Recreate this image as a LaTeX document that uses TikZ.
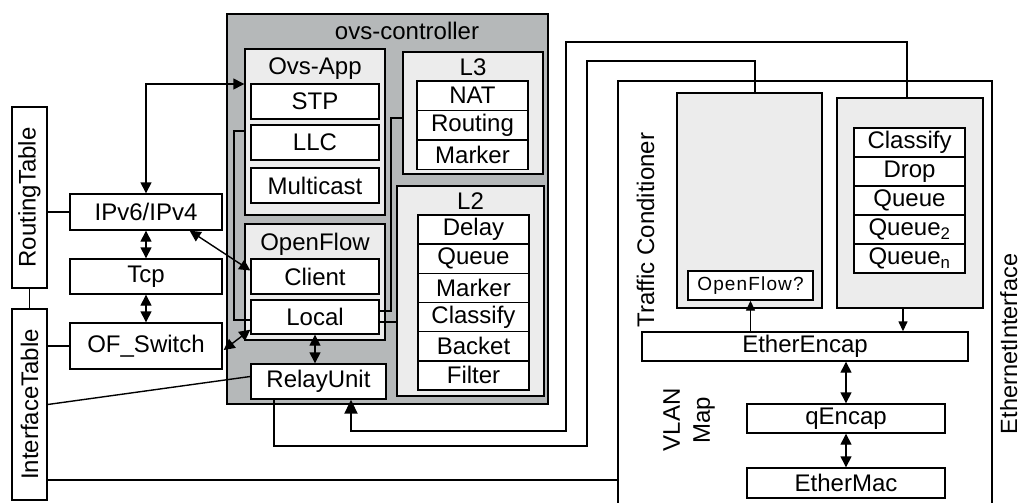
\documentclass[tikz,border=0pt]{standalone}
\usepackage{fontspec}
\setmainfont{Liberation Sans}
\usetikzlibrary{arrows.meta,calc}
\definecolor{ctrlgray}{HTML}{B5B8B9}
\definecolor{panelgray}{HTML}{ECECEC}
\begin{document}
\begin{tikzpicture}[x=1pt,y=-1pt,
  txt/.style={inner sep=0pt, font=\fontsize{24}{30}\selectfont},
  box/.style={draw=black, line width=1.4pt, fill=white, inner sep=0pt, font=\fontsize{24}{26}\selectfont},
  panel/.style={draw=black, line width=1.4pt, fill=panelgray, inner sep=0pt},
  conn/.style={line width=1.4pt},
  bi/.style={line width=1.4pt, {Triangle[length=11pt,width=11pt]}-{Triangle[length=11pt,width=11pt]}},
  uni/.style={line width=1.4pt, -{Triangle[length=10pt,width=9pt]}}]
\useasboundingbox (0,0) rectangle (1020,503);

% ---------- left column: tables and host stack ----------
\node[box, minimum width=35, minimum height=181] (rtab) at (29.5,197.5) {};
\node[txt, rotate=90] at (rtab) {RoutingTable};
\node[box, minimum width=35, minimum height=191] (itab) at (29.5,404.5) {};
\node[txt, rotate=90] at (itab) {InterfaceTable};

\node[box, minimum width=152, minimum height=36] (ipv) at (146,212) {IPv6/IPv4};
\node[box, minimum width=152, minimum height=35] (tcp) at (146,276.5) {Tcp};
\node[box, minimum width=152, minimum height=46] (ofsw) at (146,346) {OF\_Switch};

% ---------- ovs-controller ----------
\node[panel, fill=ctrlgray, minimum width=321, minimum height=390] (ctrl) at (387.5,209) {};
\node[txt] at (407,31) {ovs-controller};

\node[panel, minimum width=140, minimum height=166] (ovsapp) at (315,132) {};
\node[txt] at (315,69) {Ovs-App};
\node[box, minimum width=128, minimum height=35] (stp) at (315,101.5) {STP};
\node[box, minimum width=128, minimum height=35] (llc) at (315,142.5) {LLC};
\node[box, minimum width=128, minimum height=35] (mcast) at (315,185.5) {Multicast};

\node[panel, minimum width=140, minimum height=116] (ofbox) at (315,282) {};
\node[txt] at (315,244) {OpenFlow};
\node[box, minimum width=128, minimum height=35] (client) at (315,276.5) {Client};
\node[box, minimum width=128, minimum height=34] (local) at (315,317) {Local};

\node[box, minimum width=135, minimum height=35] (relay) at (318.5,381.5) {RelayUnit};

\node[panel, minimum width=140, minimum height=122] (l3) at (473,113) {};
\node[txt] at (473,67) {L3};
\node[box, minimum width=111, minimum height=29.4] (nat) at (472.5,95.7) {NAT};
\node[box, minimum width=111, minimum height=29.4] (rtg) at (472.5,125.1) {Routing};
\node[box, minimum width=111, minimum height=29.4] (mkt) at (472.5,154.5) {Marker};

\node[panel, minimum width=147, minimum height=210] (l2) at (470.5,291) {};
\node[txt] at (470.5,201) {L2};
\node[box, minimum width=111, minimum height=29.2] (delay) at (473.5,229.6) {Delay};
\node[box, minimum width=111, minimum height=29.2] (queue) at (473.5,258.75) {Queue};
\node[box, minimum width=111, minimum height=29.2] (mkr) at (473.5,287.9) {Marker};
\node[box, minimum width=111, minimum height=29.2] (cls) at (473.5,317.1) {Classify};
\node[box, minimum width=111, minimum height=29.2] (bkt) at (473.5,346.25) {Backet};
\node[box, minimum width=111, minimum height=29.2] (flt) at (473.5,375.4) {Filter};

% ---------- Ethernet interface ----------
\coordinate (ethL) at (618,81);
\coordinate (ethR) at (992,81);
\draw[conn] (618,510) -- (ethL) -- (ethR) -- (992,510);
\node[txt, rotate=90, anchor=base, font=\fontsize{23.5}{30}\selectfont] at (1017,344) {EthernetInterface};
\node[txt, rotate=90, anchor=base] at (654,230) {Traffic Conditioner};
\node[txt, rotate=90, align=center, font=\fontsize{24}{30}\selectfont] at (689,420) {VLAN\\Map};

\node[panel, minimum width=145, minimum height=215] (tcin) at (749.5,200.5) {};
\node[box, minimum width=125, minimum height=29, font=\fontsize{19}{22}\selectfont\addfontfeatures{LetterSpace=6}] (ofq) at (750.5,285.5) {OpenFlow?};

\node[panel, minimum width=146, minimum height=210] (tcout) at (910,203) {};
\node[box, minimum width=111, minimum height=29] (qcls) at (909.5,142.5) {Classify};
\node[box, minimum width=111, minimum height=29] (qdrop) at (909.5,171.5) {Drop};
\node[box, minimum width=111, minimum height=29] (qq) at (909.5,200.5) {Queue};
\node[box, minimum width=111, minimum height=29] (qq2) at (909.5,229.5) {Queue\textsubscript{2}};
\node[box, minimum width=111, minimum height=29] (qqn) at (909.5,258.5) {Queue\textsubscript{n}};

\node[box, minimum width=326, minimum height=29] (encap) at (805,346.5) {EtherEncap};
\node[box, minimum width=198, minimum height=29] (qencap) at (846,418.5) {qEncap};
\node[box, minimum width=198, minimum height=30] (mac) at (846,483) {EtherMac};

% ---------- connectors: left side ----------
\draw[conn] (rtab.east |- ipv.west) -- (ipv.west);
\draw[conn] (rtab.south) -- (itab.north);
\draw[conn] (itab.east |- ofsw.west) -- (ofsw.west);
\draw[conn] (itab.east) -- ($(relay.west)+(0,-5)$);
\coordinate (ifl) at (47,480);
\draw[conn] (ifl) -- (ifl -| ethL);

\coordinate (up) at (146,84);
\draw[bi] (ipv.north) -- (up) -- (up -| ovsapp.west);
\draw[bi] (ipv.south) -- (tcp.north);
\draw[bi] (tcp.south) -- (ofsw.north);
\draw[bi] ($(ipv.south east)+(-33,0)$) -- ($(client.west)+(0,-6)$);
\draw[bi] ($(ofsw.east)+(1,4)$) -- ($(local.south west)+(0,-5)$);
\draw[bi] (local.south) -- (local.south |- relay.north);

% Local wiring inside the controller
\coordinate (lw) at (234,131);
\draw[conn] ($(local.west)+(0,3)$) -| (lw) -- (lw -| ovsapp.west);
\coordinate (le) at (391,118);
\draw[conn] ($(local.east)+(0,-6)$) -| (le) -- (le -| l3.west);
\coordinate (le2) at ($(local.east)+(0,5)$);
\draw[conn] (le2) -- (le2 -| l2.west);

% ---------- connectors: right side ----------
\coordinate (a1) at (907,42);
\coordinate (a2) at (566,431);
\coordinate (a3) at (351,431);
\draw[line width=2pt, -{Triangle[length=14pt,width=13pt]}]
  (a1 |- tcout.north) -- (a1) -| (a2) -- (a3) -- (a3 |- relay.south);

\coordinate (b1) at (274,446);
\coordinate (b2) at (587,61);
\coordinate (b3) at (755,61);
\draw[conn] (b1 |- relay.south) -- (b1) -| (b2) -- (b3) -- (b3 |- tcin.north);

\draw[uni] (ofq.south |- encap.north) -- (ofq.south);
\coordinate (c1) at (903,308);
\draw[uni] (c1) -- (c1 |- encap.north);
\draw[bi] (qencap.north |- encap.south) -- (qencap.north);
\draw[bi] (qencap.south) -- (mac.north);
\end{tikzpicture}
\end{document}
